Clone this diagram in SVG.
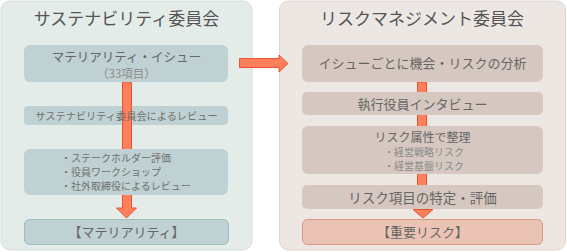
<svg xmlns="http://www.w3.org/2000/svg" width="567" height="252" viewBox="0 0 567 252">
<style>
text{font-family:"Noto Sans CJK JP","Noto Sans",sans-serif;}
.title{font-size:17px;fill:#555;text-anchor:middle;}
.t{font-size:13px;fill:#666;text-anchor:middle;}
.s{font-size:10px;fill:#707070;}
.sm{font-size:10px;fill:#8a8a8a;}
.lb{fill:#bfd1d2;}
.rb{fill:#d6c8c0;}
.arr{fill:#ff7f5c;stroke:#e8552d;stroke-width:1;}
</style>
<g id="panel-sustainability">
<rect x="1" y="1" width="251" height="249" rx="9" fill="#e4ecea" stroke="#d6dedc"/>
<text class="title" x="126.5" y="25">サステナビリティ委員会</text>
</g>
<g id="panel-risk">
<rect x="279.5" y="1" width="286" height="249" rx="9" fill="#ede7e3" stroke="#ddd6d1"/>
<text class="title" x="422" y="25">リスクマネジメント委員会</text>
</g>
<g id="connectors">
<path class="arr" d="M239.5,58.5 H279 V55 L288,63.5 L279,72 V67.5 H239.5 Z"/>
<path class="arr" d="M122.5,82 V208 H116.5 L126.5,218 L136.5,208 H131.5 V82 Z"/>
<rect class="arr" x="417.5" y="82" width="9" height="126"/>
<path class="arr" d="M413,209.5 H433 L423,218 Z"/>
</g>
<g id="l-issue">
<rect class="lb" x="24" y="45" width="204" height="37" rx="6"/>
<text class="t" x="126.5" y="62" style="font-size:12.5px">マテリアリティ・イシュー</text>
<text class="sm" x="126.5" y="78" text-anchor="middle" style="font-size:11.5px">（33項目）</text>
</g>
<g id="l-review">
<path class="lb" fill-rule="evenodd" d="M28,106 H224 A4,4 0 0 1 228,110 V121 A4,4 0 0 1 224,125 H28 A4,4 0 0 1 24,121 V110 A4,4 0 0 1 28,106 Z M122,106 V125 H132 V106 Z"/>
<text class="s" x="126.5" y="119.5" text-anchor="middle" style="font-size:10.2px">サステナビリティ委員会によるレビュー</text>
</g>
<g id="l-eval">
<rect class="lb" x="24" y="149" width="204" height="46" rx="6"/>
<text class="s" x="61" y="162">・ステークホルダー評価</text>
<text class="s" x="61" y="176">・役員ワークショップ</text>
<text class="s" x="61" y="190">・社外取締役によるレビュー</text>
</g>
<g id="l-materiality">
<rect x="24.5" y="219.5" width="204" height="25" rx="5" fill="#bfd1d2" stroke="#a3bcbd"/>
<text class="t" x="126.5" y="237">【マテリアリティ】</text>
</g>
<g id="r-analysis">
<rect class="rb" x="302" y="45" width="241" height="37" rx="6"/>
<text class="t" x="422.5" y="68">イシューごとに機会・リスクの分析</text>
</g>
<g id="r-interview">
<rect class="rb" x="302" y="92" width="241" height="23" rx="5"/>
<text class="t" x="422.5" y="109">執行役員インタビュー</text>
</g>
<g id="r-sort">
<rect class="rb" x="302" y="126" width="241" height="48" rx="6"/>
<text class="t" x="422.5" y="142" style="font-size:12px">リスク属性で整理</text>
<text class="sm" x="384" y="156">・経営戦略リスク</text>
<text class="sm" x="384" y="169.5">・経営基盤リスク</text>
</g>
<g id="r-identify">
<rect class="rb" x="302" y="185" width="241" height="24" rx="5"/>
<text class="t" x="422.5" y="203" style="font-size:13.5px">リスク項目の特定・評価</text>
</g>
<g id="r-important">
<rect x="302.5" y="219.5" width="240" height="25" rx="5" fill="#eac3b5" stroke="#d9977f"/>
<text class="t" x="422.5" y="237">【重要リスク】</text>
</g>
</svg>
